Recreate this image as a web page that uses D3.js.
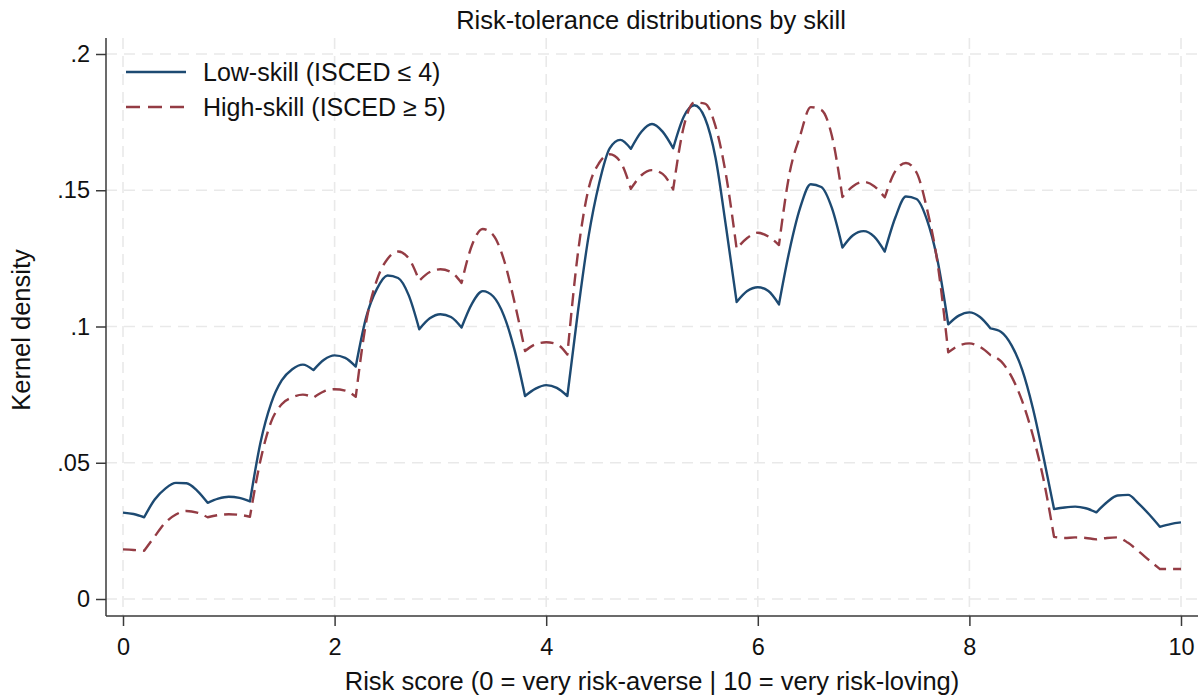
<!DOCTYPE html>
<html>
<head>
<meta charset="utf-8">
<script src="https://cdn.jsdelivr.net/npm/d3@7"></script>
<style>
    body { margin: 0; background: #fff; }
    text { font-family: "Liberation Sans", Arial, sans-serif; fill: #111; }
    .grid line { stroke: #e9e9e9; stroke-width: 1.6; stroke-dasharray: 11, 7; }
    .axis .domain { display: none; }
    .axis line { stroke: #3a3a3a; stroke-width: 1.5; }
    .axis text { font-size: 23.5px; fill: #111; }
</style>
</head>
<body>
<svg id="chart" width="1203" height="697"></svg>
<script>
// evaluation points of the risk score
const riskGrid = [
    0.0, 0.1, 0.2, 0.3, 0.4, 0.5, 0.6, 0.7, 0.8, 0.9,
    1.0, 1.1, 1.2, 1.3, 1.4, 1.5, 1.6, 1.7, 1.8, 1.9,
    2.0, 2.1, 2.2, 2.3, 2.4, 2.5, 2.6, 2.7, 2.8, 2.9,
    3.0, 3.1, 3.2, 3.3, 3.4, 3.5, 3.6, 3.7, 3.8, 3.9,
    4.0, 4.1, 4.2, 4.3, 4.4, 4.5, 4.6, 4.7, 4.8, 4.9,
    5.0, 5.1, 5.2, 5.3, 5.4, 5.5, 5.6, 5.7, 5.8, 5.9,
    6.0, 6.1, 6.2, 6.3, 6.4, 6.5, 6.6, 6.7, 6.8, 6.9,
    7.0, 7.1, 7.2, 7.3, 7.4, 7.5, 7.6, 7.7, 7.8, 7.9,
    8.0, 8.1, 8.2, 8.3, 8.4, 8.5, 8.6, 8.7, 8.8, 8.9,
    9.0, 9.1, 9.2, 9.3, 9.4, 9.5, 9.6, 9.7, 9.8, 9.9,
    10.0
];

// kernel density, low-skill (ISCED <= 4)
const lowSkill = [
    0.0317, 0.0312, 0.0300, 0.0365, 0.0405, 0.0426, 0.0425, 0.0398, 0.0353, 0.0368,
    0.0375, 0.0371, 0.0358, 0.0575, 0.0718, 0.0802, 0.0843, 0.0860, 0.0840, 0.0878,
    0.0894, 0.0885, 0.0853, 0.1036, 0.1138, 0.1187, 0.1178, 0.1115, 0.0990, 0.1030,
    0.1045, 0.1035, 0.0996, 0.1085, 0.1130, 0.1110, 0.1040, 0.0915, 0.0745, 0.0772,
    0.0785, 0.0775, 0.0745, 0.1055, 0.1330, 0.1525, 0.1654, 0.1685, 0.1652, 0.1715,
    0.1743, 0.1715, 0.1654, 0.1770, 0.1812, 0.1765, 0.1620, 0.1365, 0.1090, 0.1130,
    0.1144, 0.1130, 0.1081, 0.1280, 0.1435, 0.1522, 0.1512, 0.1435, 0.1290, 0.1335,
    0.1350, 0.1330, 0.1275, 0.1400, 0.1477, 0.1468, 0.1390, 0.1240, 0.1008, 0.1040,
    0.1052, 0.1035, 0.0993, 0.0980, 0.0930, 0.0840, 0.0700, 0.0522, 0.0330, 0.0336,
    0.0339, 0.0333, 0.0318, 0.0355, 0.0380, 0.0382, 0.0350, 0.0310, 0.0265, 0.0275,
    0.0281
];

// kernel density, high-skill (ISCED >= 5)
const highSkill = [
    0.0182, 0.0180, 0.0177, 0.0230, 0.0280, 0.0310, 0.0323, 0.0317, 0.0300, 0.0308,
    0.0311, 0.0309, 0.0302, 0.0510, 0.0650, 0.0715, 0.0740, 0.0750, 0.0739, 0.0762,
    0.0770, 0.0765, 0.0742, 0.1020, 0.1171, 0.1248, 0.1275, 0.1250, 0.1168, 0.1200,
    0.1210, 0.1200, 0.1160, 0.1300, 0.1358, 0.1335, 0.1245, 0.1090, 0.0910, 0.0935,
    0.0942, 0.0935, 0.0897, 0.1270, 0.1505, 0.1600, 0.1632, 0.1605, 0.1505, 0.1555,
    0.1574, 0.1560, 0.1503, 0.1733, 0.1822, 0.1818, 0.1735, 0.1555, 0.1285, 0.1325,
    0.1344, 0.1330, 0.1299, 0.1562, 0.1700, 0.1805, 0.1795, 0.1700, 0.1475, 0.1515,
    0.1531, 0.1515, 0.1474, 0.1570, 0.1600, 0.1565, 0.1430, 0.1230, 0.0905, 0.0930,
    0.0938, 0.0925, 0.0895, 0.0872, 0.0815, 0.0725, 0.0600, 0.0440, 0.0228, 0.0224,
    0.0226, 0.0224, 0.0219, 0.0224, 0.0226, 0.0206, 0.0175, 0.0142, 0.0110, 0.0110,
    0.0110
];

// kinks of the density curves
const kinks = [0.2, 0.8, 1.2, 1.8, 2.2, 2.8, 3.2, 3.8, 4.2, 4.8,
               5.2, 5.8, 6.2, 6.8, 7.2, 7.8, 8.2, 8.8, 9.2, 9.8];

const xTicks = [0, 2, 4, 6, 8, 10];
const yTicks = [0, 0.05, 0.1, 0.15, 0.2];
const yTickLabels = ["0", ".05", ".1", ".15", ".2"];

const seriesNames = ["Low-skill (ISCED \u2264 4)", "High-skill (ISCED \u2265 5)"];
const seriesColors = ["#1d4a72", "#943c44"];


let svg = d3.select("#chart");

// plot region
let plotLeft = 106, plotRight = 1198, plotTop = 38, plotBottom = 616;

let x = d3.scaleLinear().domain([0, 10]).range([123, 1181]);
let y = d3.scaleLinear().domain([0, 0.2]).range([599, 54]);

// grid
let grid = svg.append("g").attr("class", "grid");
grid.selectAll(".gx")
    .data(xTicks)
    .enter()
    .append("line")
    .attr("x1", d => x(d)).attr("x2", d => x(d))
    .attr("y1", plotTop).attr("y2", plotBottom);
grid.selectAll(".gy")
    .data(yTicks)
    .enter()
    .append("line")
    .attr("x1", plotLeft).attr("x2", plotRight)
    .attr("y1", d => y(d)).attr("y2", d => y(d));

// axes
svg.append("g")
   .attr("class", "axis")
   .attr("transform", "translate(" + plotLeft + ",0)")
   .call(d3.axisLeft(y).tickValues(yTicks)
                       .tickFormat((d, i) => yTickLabels[i])
                       .tickSize(10).tickPadding(6));

svg.append("g")
   .attr("class", "axis")
   .attr("transform", "translate(0," + plotBottom + ")")
   .call(d3.axisBottom(x).tickValues(xTicks)
                         .tickFormat(d3.format("d"))
                         .tickSize(10).tickPadding(12));

svg.append("line")
   .attr("x1", plotLeft).attr("x2", plotLeft)
   .attr("y1", plotTop).attr("y2", plotBottom)
   .attr("stroke", "#3a3a3a").attr("stroke-width", 1.5);
svg.append("line")
   .attr("x1", plotLeft).attr("x2", plotRight)
   .attr("y1", plotBottom).attr("y2", plotBottom)
   .attr("stroke", "#3a3a3a").attr("stroke-width", 1.5);

// curves, smooth between kinks
let line = d3.line()
             .x(d => x(d.x))
             .y(d => y(d.y))
             .curve(d3.curveMonotoneX);

function densityPath(values) {
    let pts = riskGrid.map((r, i) => ({x: r, y: values[i]}));
    let cuts = [0].concat(kinks, [10]);
    let parts = [];
    for (let k = 0; k < cuts.length - 1; k++) {
        let seg = pts.filter(p => p.x >= cuts[k] - 1e-9 && p.x <= cuts[k + 1] + 1e-9);
        let d = line(seg);
        parts.push(k === 0 ? d : "L" + d.slice(1));
    }
    return parts.join("");
}

let series = [lowSkill, highSkill];

svg.append("g")
   .selectAll("path")
   .data(series)
   .enter()
   .append("path")
   .attr("d", d => densityPath(d))
   .attr("fill", "none")
   .attr("stroke", (d, i) => seriesColors[i])
   .attr("stroke-width", 2.4)
   .attr("stroke-linejoin", "round")
   .attr("stroke-dasharray", (d, i) => i === 1 ? "13,7" : null);

// legend
let legend = svg.append("g")
                .selectAll("g")
                .data(seriesNames)
                .enter()
                .append("g")
                .attr("transform", (d, i) => "translate(126," + (72 + i * 35) + ")");
legend.append("line")
      .attr("x1", 0).attr("x2", 60)
      .attr("stroke", (d, i) => seriesColors[i])
      .attr("stroke-width", 2.4)
      .attr("stroke-dasharray", (d, i) => i === 1 ? "14,8" : null);
legend.append("text")
      .attr("x", 77)
      .attr("dy", "0.35em")
      .style("font-size", "25px")
      .text(d => d);

// titles
svg.append("text")
   .attr("x", 651).attr("y", 29)
   .attr("text-anchor", "middle")
   .style("font-size", "25.5px")
   .text("Risk-tolerance distributions by skill");

svg.append("text")
   .attr("x", 652).attr("y", 690)
   .attr("text-anchor", "middle")
   .style("font-size", "25.5px")
   .text("Risk score (0 = very risk-averse | 10 = very risk-loving)");

svg.append("text")
   .attr("transform", "translate(30,330) rotate(-90)")
   .attr("text-anchor", "middle")
   .style("font-size", "25.5px")
   .text("Kernel density");
</script>
</body>
</html>
